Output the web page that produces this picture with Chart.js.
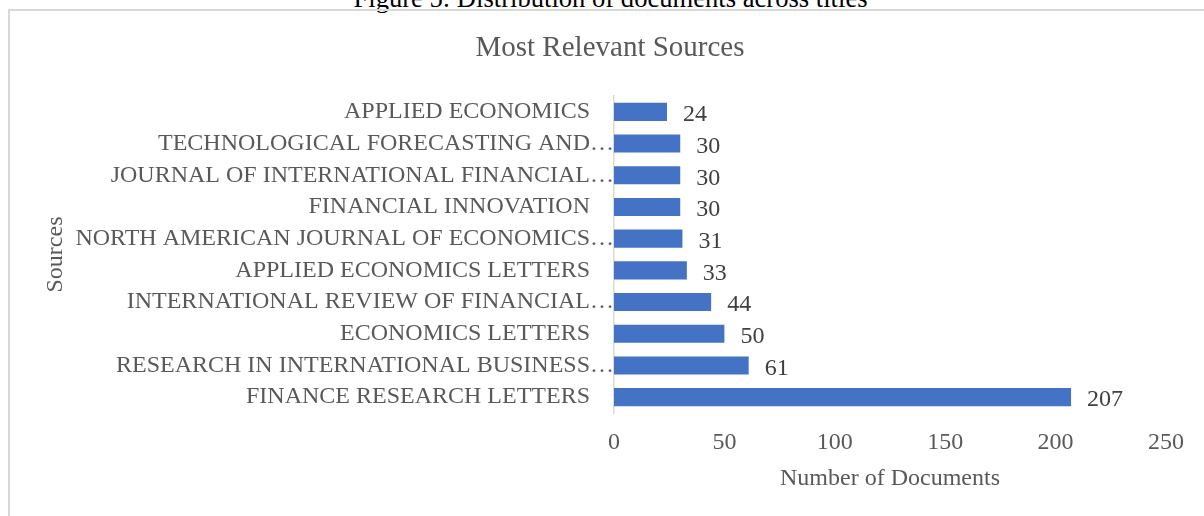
<!DOCTYPE html>
<html>
<head>
<meta charset="utf-8">
<title>Most Relevant Sources</title>
<script src="https://cdn.jsdelivr.net/npm/chart.js@4"></script>
<style>
    html, body {
        margin: 0;
        padding: 0;
        background: #ffffff;
        overflow: hidden;
    }
    #page {
        position: relative;
        width: 1204px;
        height: 516px;
        overflow: hidden;
    }
    #caption {
        position: absolute;
        left: 0;
        top: -17px;
        width: 1221px;
        text-align: center;
        font-family: 'Liberation Serif', 'Times New Roman', serif;
        font-size: 26.6px;
        line-height: 30px;
        color: #000000;
        white-space: nowrap;
    }
    #frame {
        position: absolute;
        left: 8px;
        top: 9px;
        width: 1300px;
        height: 600px;
        border: 2px solid #d9d9d9;
    }
    #sourcesChart {
        position: absolute;
        left: 0;
        top: 0;
    }
</style>
</head>
<body>
<div id="page">
    <div id="caption">Figure 5: Distribution of documents across titles</div>
    <div id="frame"></div>
    <canvas id="sourcesChart" width="1204" height="516"></canvas>
</div>

<script>
// Most Relevant Sources - horizontal bar chart

// Chart data
const sources = [
    'APPLIED ECONOMICS',
    'TECHNOLOGICAL FORECASTING AND\u2026',
    'JOURNAL OF INTERNATIONAL FINANCIAL\u2026',
    'FINANCIAL INNOVATION',
    'NORTH AMERICAN JOURNAL OF ECONOMICS\u2026',
    'APPLIED ECONOMICS LETTERS',
    'INTERNATIONAL REVIEW OF FINANCIAL\u2026',
    'ECONOMICS LETTERS',
    'RESEARCH IN INTERNATIONAL BUSINESS\u2026',
    'FINANCE RESEARCH LETTERS'
];
const documentCounts = [24, 30, 30, 30, 31, 33, 44, 50, 61, 207];
const xTicks = [0, 50, 100, 150, 200, 250];

const chartTitle = 'Most Relevant Sources';
const xAxisTitle = 'Number of Documents';
const yAxisTitle = 'Sources';

// Shared styling
const serif = "'Liberation Serif', 'Times New Roman', serif";
const labelGrey = '#595959';
const valueGrey = '#404040';
const barBlue = '#4472C4';

// Draws the chart title and the value next to every bar
const annotatePlugin = {
    id: 'annotate',
    afterDraw(chart) {
        const ctx = chart.ctx;
        ctx.save();

        // title
        ctx.font = `29px ${serif}`;
        ctx.fillStyle = labelGrey;
        ctx.textAlign = 'center';
        ctx.textBaseline = 'middle';
        ctx.fillText(chartTitle, 610, 48);

        // data labels
        ctx.font = `24px ${serif}`;
        ctx.fillStyle = valueGrey;
        ctx.textAlign = 'left';
        const meta = chart.getDatasetMeta(0);
        meta.data.forEach((bar, i) => {
            ctx.fillText(String(documentCounts[i]), bar.x + 16, bar.y + 3);
        });

        ctx.restore();
    }
};

// Render the chart
function renderSourcesChart() {
    const canvas = document.getElementById('sourcesChart');

    new Chart(canvas, {
        type: 'bar',
        data: {
            labels: sources,
            datasets: [{
                label: xAxisTitle,
                data: documentCounts,
                backgroundColor: barBlue,
                borderWidth: 0,
                barPercentage: 0.57,
                categoryPercentage: 1.0
            }]
        },
        options: {
            indexAxis: 'y',
            responsive: false,
            animation: false,
            devicePixelRatio: 1,
            layout: {
                padding: { left: 40, right: 38, top: 96, bottom: 23 }
            },
            plugins: {
                legend: { display: false },
                tooltip: { enabled: false },
                title: { display: false }
            },
            scales: {
                x: {
                    min: xTicks[0],
                    max: xTicks[xTicks.length - 1],
                    afterBuildTicks(scale) {
                        scale.ticks = xTicks.map(v => ({ value: v }));
                    },
                    afterFit(scale) {
                        scale.height = 80;
                    },
                    grid: { display: false, drawTicks: false },
                    border: { display: false },
                    ticks: {
                        padding: 15,
                        autoSkip: false,
                        maxRotation: 0,
                        color: labelGrey,
                        font: { family: serif, size: 24 }
                    },
                    title: {
                        display: true,
                        text: xAxisTitle,
                        color: labelGrey,
                        padding: { top: 0, bottom: 0 },
                        font: { family: serif, size: 24 }
                    }
                },
                y: {
                    afterFit(scale) {
                        scale.width = 574;
                    },
                    grid: { display: false, drawTicks: false },
                    border: { display: true, color: '#d9d9d9', width: 1.5 },
                    ticks: {
                        padding: 0,
                        autoSkip: false,
                        color: labelGrey,
                        font: { family: serif, size: 24 },
                        // Excel lets the truncated names run up to the axis line
                        callback(value) {
                            const name = this.getLabelForValue(value);
                            return name.endsWith('\u2026') ? name : name + '\u2003';
                        }
                    },
                    title: {
                        display: true,
                        text: yAxisTitle,
                        color: labelGrey,
                        padding: { top: 1, bottom: 0 },
                        font: { family: serif, size: 24 }
                    }
                }
            }
        },
        plugins: [annotatePlugin]
    });
}

document.addEventListener('DOMContentLoaded', renderSourcesChart);
</script>
</body>
</html>
